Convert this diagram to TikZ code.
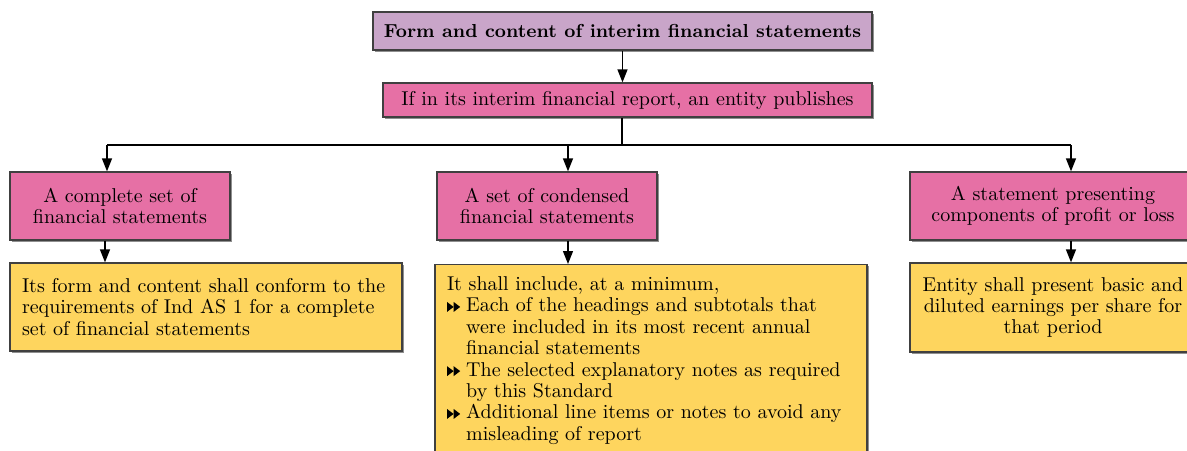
\documentclass[tikz,border=0pt]{standalone}
\usepackage{xcolor}
\usetikzlibrary{arrows.meta, positioning, shadows}
\definecolor{lilac}{HTML}{C9A5C9}
\definecolor{rosebox}{HTML}{E670A5}
\definecolor{notefill}{HTML}{FED55E}
\tikzset{
  base/.style={rectangle, draw=black!75, line width=0.65pt, inner sep=0pt,
    drop shadow={shadow xshift=0.8pt, shadow yshift=-0.8pt, fill=black!55, opacity=.8},
    font=\fontsize{10}{10.7}\selectfont},
  titlebox/.style={base, fill=lilac, font=\fontsize{9.4}{10.7}\selectfont\bfseries},
  headbox/.style={base, fill=rosebox, align=center},
  notebox/.style={base, fill=notefill, inner xsep=6pt},
  arrow/.style={line width=0.65pt, -{Triangle[length=6.5pt, width=5pt]}},
  line/.style={line width=0.65pt}
}
\newcommand{\bul}{\tikz[baseline=0pt, x=1pt, y=1pt]{\fill (0,0) -- (3.3,2.5) -- (0,5) -- cycle; \fill (3.3,0) -- (6.6,2.5) -- (3.3,5) -- cycle;}}
\begin{document}
\begin{tikzpicture}[x=0.5pt, y=-0.5pt]
  \useasboundingbox (0,0) rectangle (1187,450);
  \clip (0,0) rectangle (1187,450);
  % top of the tree
  \node[titlebox, minimum width=249.5pt, minimum height=19pt] (form) at (622.5,31) {Form and content of interim financial statements};
  \node[headbox, minimum width=244.5pt, minimum height=17pt] (publish) at (627.5,100) {If in its interim financial report, an entity publishes};

  % three options
  \node[headbox, minimum width=110pt, minimum height=34pt] (full) at (120,206) {A complete set of\\financial statements};
  \node[headbox, minimum width=110pt, minimum height=34pt] (cond) at (547,206) {A set of condensed\\financial statements};
  \node[headbox, minimum width=143pt, minimum height=34pt] (comp) at (1053,206) {A statement presenting\\components of profit or loss};

  % what each one needs
  \node[notebox, text width=184pt, minimum height=44pt, align=left] (fullnote) at (206,307)
    {Its form and content shall conform to the\\requirements of Ind AS 1 for a complete\\set of financial statements};
  \node[notebox, text width=204pt, inner ysep=6pt, align=left, anchor=north] (condnote) at (651,264)
    {It shall include, at a minimum,\\
     \bul\hspace{3pt}Each of the headings and subtotals that\\
     \hspace*{9.6pt}were included in its most recent annual\\
     \hspace*{9.6pt}financial statements\\
     \bul\hspace{3pt}The selected explanatory notes as required\\
     \hspace*{9.6pt}by this Standard\\
     \bul\hspace{3pt}Additional line items or notes to avoid any\\
     \hspace*{9.6pt}misleading of report};
  \node[notebox, text width=131pt, minimum height=44.5pt, align=center] (compnote) at (1053,307.5)
    {Entity shall present basic and\\diluted earnings per share for\\that period};

  % connectors
  \coordinate (split) at (622,145);
  \coordinate (ja) at (107,145);
  \coordinate (jb) at (568,145);
  \coordinate (jc) at (1071,145);
  \draw[arrow] (form.south) -- (form.south |- publish.north);
  \draw[line] (split |- publish.south) -- (split);
  \draw[line] (ja) -- (jc);
  \draw[arrow] (ja) -- (ja |- full.north);
  \draw[arrow] (jb) -- (jb |- cond.north);
  \draw[arrow] (jc) -- (jc |- comp.north);
  \draw[arrow] ([xshift=-1pt]ja |- full.south) -- ([xshift=-1pt]ja |- fullnote.north);
  \draw[arrow] (jb |- cond.south) -- (jb |- condnote.north);
  \draw[arrow] (jc |- comp.south) -- (jc |- compnote.north);
\end{tikzpicture}
\end{document}
